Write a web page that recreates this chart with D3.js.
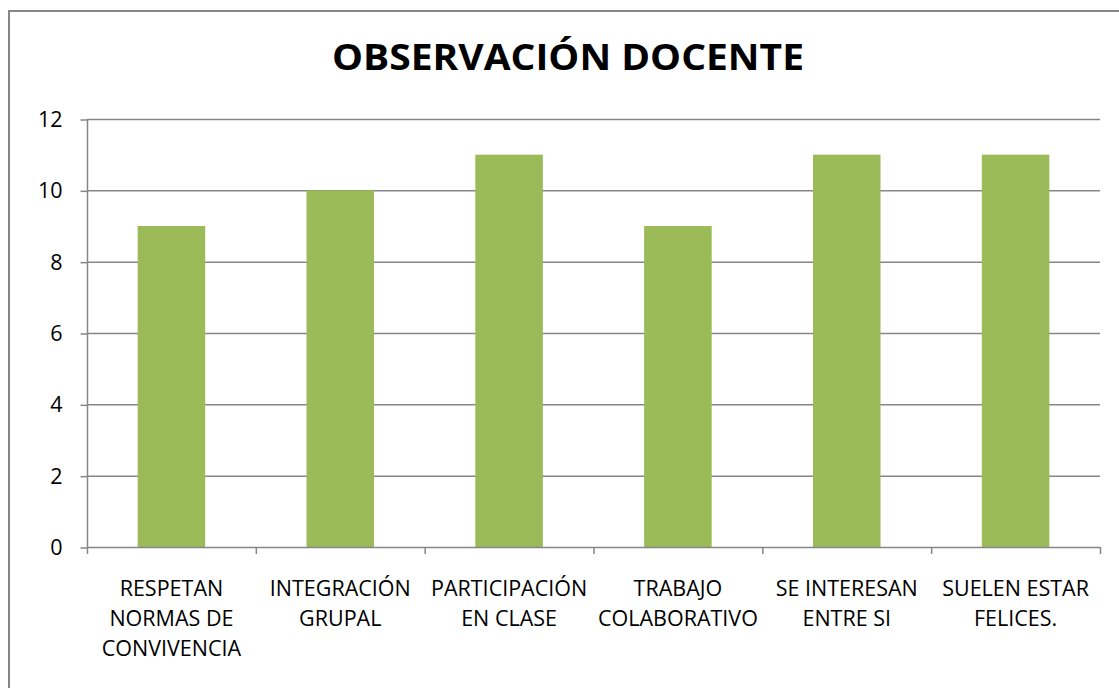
<!DOCTYPE html>
<html>
<head>
<meta charset="utf-8">
<script src="https://cdn.jsdelivr.net/npm/d3@7"></script>
<style>
  body { margin: 0; background: #fff; }
  text { font-family: "Open Sans", Carlito, Lato, sans-serif; fill: #000; }
</style>
</head>
<body>
<svg width="1119" height="688"></svg>
<script>
const categories = [
    ['RESPETAN', 'NORMAS DE', 'CONVIVENCIA'],
    ['INTEGRACIÓN', 'GRUPAL'],
    ['PARTICIPACIÓN', 'EN CLASE'],
    ['TRABAJO', 'COLABORATIVO'],
    ['SE INTERESAN', 'ENTRE SI'],
    ['SUELEN ESTAR', 'FELICES.']
];
const values = [9, 10, 11, 9, 11, 11];
const yTicks = [0, 2, 4, 6, 8, 10, 12];
const title = 'OBSERVACIÓN DOCENTE';

const this_svg = d3.select('svg');
const plotLeft = 87, plotRight = 1100, plotTop = 119, plotBottom = 547;
const grey = '#868686';

// outer frame (runs off the right and bottom edges)
this_svg.append('rect')
    .attr('x', 9).attr('y', 11)
    .attr('width', 1130).attr('height', 700)
    .attr('fill', 'none').attr('stroke', grey).attr('stroke-width', 2);

this_svg.append('text')
    .attr('x', 568).attr('y', 70)
    .attr('text-anchor', 'middle')
    .attr('textLength', 472)
    .attr('lengthAdjust', 'spacingAndGlyphs')
    .style('font-size', '36px').style('font-weight', 'bold')
    .text(title);

const x = d3.scaleBand().domain(d3.range(categories.length)).range([plotLeft, plotRight]);
const y = d3.scaleLinear().domain([0, 12]).range([plotBottom, plotTop]);

// gridlines
this_svg.append('g').selectAll('line')
    .data(yTicks.filter(d => d > 0))
    .join('line')
    .attr('x1', plotLeft).attr('x2', plotRight)
    .attr('y1', d => y(d) + 0.5).attr('y2', d => y(d) + 0.5)
    .attr('stroke', grey).attr('stroke-width', 1.5);

// bars
const barW = x.bandwidth() * 0.4;
this_svg.append('g').selectAll('rect')
    .data(values)
    .join('rect')
    .attr('x', (d, i) => x(i) + (x.bandwidth() - barW) / 2)
    .attr('y', d => y(d))
    .attr('width', barW)
    .attr('height', d => plotBottom - y(d))
    .attr('fill', '#9BBB59');

// y axis
const yAxis = this_svg.append('g')
    .attr('transform', `translate(${plotLeft + 0.5},0.5)`)
    .call(d3.axisLeft(y).tickValues(yTicks).tickSize(7).tickPadding(18));
yAxis.attr('font-family', null).attr('font-size', null);
yAxis.selectAll('path, line').attr('stroke', grey).attr('stroke-width', 1.5);
yAxis.select('.domain').attr('d', `M0,${plotTop}V${plotBottom}`);
yAxis.selectAll('text').style('font-size', '21.5px').attr('fill', '#000');

// x axis: ticks at category boundaries
const bounds = d3.range(categories.length + 1).map(i => plotLeft + i * x.step());
const xg = this_svg.append('g');
xg.append('line')
    .attr('x1', plotLeft).attr('x2', plotRight)
    .attr('y1', plotBottom + 0.5).attr('y2', plotBottom + 0.5)
    .attr('stroke', grey).attr('stroke-width', 1.5);
xg.selectAll('line.tick')
    .data(bounds)
    .join('line').attr('class', 'tick')
    .attr('x1', d => d + 0.5).attr('x2', d => d + 0.5)
    .attr('y1', plotBottom).attr('y2', plotBottom + 7)
    .attr('stroke', grey).attr('stroke-width', 1.5);

xg.selectAll('text')
    .data(categories)
    .join('text')
    .attr('x', (d, i) => x(i) + x.bandwidth() / 2)
    .attr('y', 596)
    .attr('text-anchor', 'middle')
    .style('font-size', '21.5px')
    .each(function(d) {
        const t = d3.select(this);
        d.forEach((line, k) => {
            t.append('tspan')
                .attr('x', t.attr('x'))
                .attr('dy', k === 0 ? 0 : 30)
                .text(line);
        });
    });
</script>
</body>
</html>
